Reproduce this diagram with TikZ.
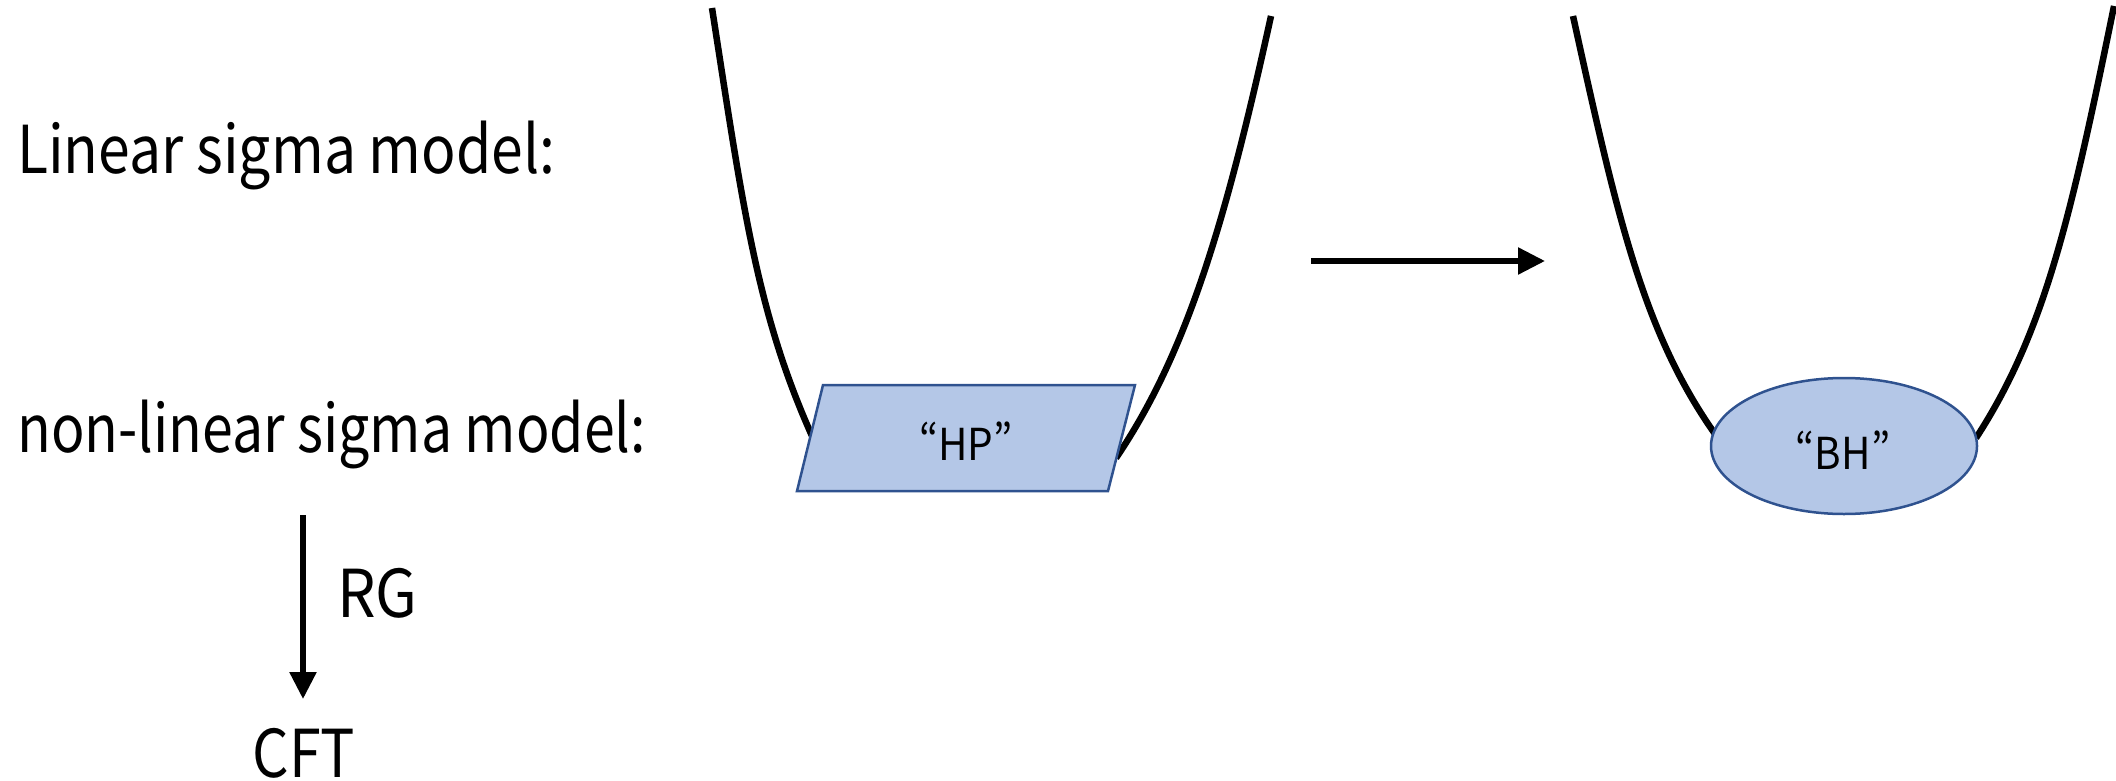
\documentclass[tikz,border=0pt]{standalone}
\usepackage{graphicx}
\usepackage{fontspec}
\setmainfont{Noto Sans CJK SC}[RawFeature={+pwid}]
\usetikzlibrary{arrows.meta,shapes.geometric}
\definecolor{boxfill}{HTML}{B4C7E7}
\definecolor{boxline}{HTML}{2F528F}
\newcommand{\narrowtxt}[2]{\scalebox{#1}[1]{#2}}
\tikzset{
  pot/.style={line width=6.5pt, black},
  bigtext/.style={font=\fontsize{66}{70}\selectfont, inner sep=0pt},
  intext/.style={font=\fontsize{44}{48}\selectfont, inner sep=0pt},
  flowarrow/.style={line width=5.5pt, -{Triangle[length=27pt,width=26pt]}},
  shapebox/.style={fill=boxfill, draw=boxline, line width=2.5pt}
}
\begin{document}
\begin{tikzpicture}[x=1pt,y=-1pt]
\useasboundingbox (0,0) rectangle (2116,781);
% labels
\node[bigtext, anchor=base west] (lin) at (17,173) {\narrowtxt{0.865}{Linear sigma model:}};
\node[bigtext, anchor=base west] (nonlin) at (17,452) {\narrowtxt{0.84}{non-linear sigma model:}};
\node[bigtext, anchor=base west] (rg) at (337,617) {\narrowtxt{0.92}{RG}};
\node[bigtext, anchor=base] (cft) at (304,777) {\narrowtxt{0.87}{CFT}};
% RG arrow
\coordinate (rgtop) at (303,515);
\coordinate (rgtip) at (303,699);
\draw[flowarrow] (rgtop) -- (rgtip);
% left potential
\coordinate (l1) at (712,8);
\coordinate (l2) at (812,436);
\coordinate (l3) at (1116,458);
\coordinate (l4) at (1271,16);
\draw[pot] (l1) .. controls (743,208) and (757,313) .. (l2);
\draw[pot] (l3) .. controls (1188,352) and (1227,216) .. (l4);
% parallelogram HP
\filldraw[shapebox] (823,385) -- (1135,385) -- (1108,491) -- (797,491) -- cycle;
\node[intext] (hp) at (966,441) {\narrowtxt{0.92}{“HP”}};
% transition arrow
\coordinate (astart) at (1311,261);
\coordinate (aend) at (1545,261);
\draw[flowarrow] (astart) -- (aend);
% right potential
\coordinate (r1) at (1573,16);
\coordinate (r2) at (1715,434);
\coordinate (r3) at (1976,438);
\coordinate (r4) at (2114,6);
\draw[pot] (r1) .. controls (1617,216) and (1643,332) .. (r2);
\draw[pot] (r3) .. controls (2045,332) and (2071,216) .. (r4);
% ellipse BH
\node[shapebox, ellipse, inner sep=0pt, minimum width=266pt, minimum height=136pt] (bh) at (1844,446) {};
\node[intext] (bhtext) at (1843,450) {\narrowtxt{0.92}{“BH”}};
\end{tikzpicture}
\end{document}
